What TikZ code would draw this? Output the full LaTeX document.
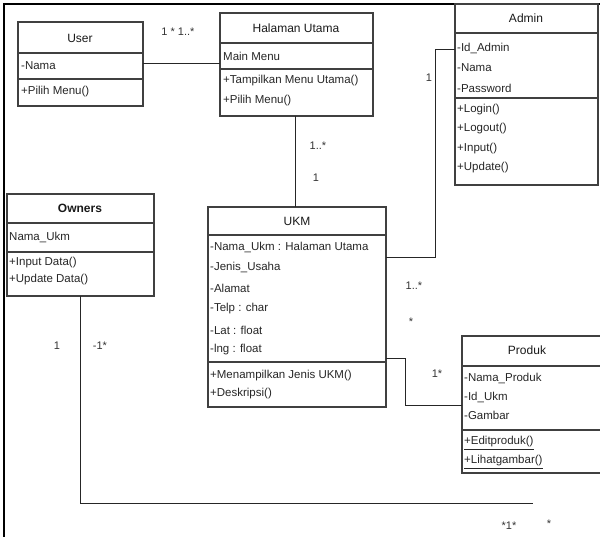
\documentclass[tikz,border=0pt]{standalone}
\usepackage{fontspec}
\setmainfont{Liberation Sans}
\begin{document}
\begin{tikzpicture}[x=1pt,y=-1pt,
  box/.style={draw=black!75, line width=1.3pt, inner sep=0pt, outer sep=0pt, anchor=north west},
  sep/.style={draw=black!75, line width=1.3pt},
  conn/.style={draw=black!85, line width=1pt},
  txt/.style={anchor=west, inner sep=0pt, font=\fontsize{11.5}{13}\selectfont, text=black!85},
  ttl/.style={inner sep=0pt, font=\fontsize{12}{14}\selectfont, text=black!90},
  lbl/.style={inner sep=0pt, font=\fontsize{11}{13}\selectfont, text=black!80}]
\useasboundingbox (0,0) rectangle (600,537);
% frame
\draw[line width=2pt] (4,537) -- (4,4) -- (600,4);

% User
\node[box, minimum width=125pt, minimum height=84pt] (user) at (18,22) {};
\draw[sep] (user.west |- 0,53) -- (user.east |- 0,53);
\draw[sep] (user.west |- 0,79) -- (user.east |- 0,79);
\node[ttl] (userT) at (80,38) {User};
\node[txt] (userA) at (21,66) {-Nama};
\node[txt] (userM) at (21,92) {+Pilih Menu()};

% Halaman Utama
\node[box, minimum width=153pt, minimum height=103pt] (hu) at (220,13) {};
\draw[sep] (hu.west |- 0,43) -- (hu.east |- 0,43);
\draw[sep] (hu.west |- 0,69) -- (hu.east |- 0,69);
\node[ttl] (huT) at (296,28) {Halaman Utama};
\node[txt] (huA) at (223,56) {Main Menu};
\node[txt] (huM1) at (223,81) {+Tampilkan Menu Utama()};
\node[txt] (huM2) at (223,101) {+Pilih Menu()};

% Admin
\node[box, minimum width=143pt, minimum height=181pt] (admin) at (455,4) {};
\draw[sep] (admin.west |- 0,33) -- (admin.east |- 0,33);
\draw[sep] (admin.west |- 0,98) -- (admin.east |- 0,98);
\node[ttl] (adminT) at (526,18) {Admin};
\node[txt] (adminA1) at (457,48) {-Id\_Admin};
\node[txt] (adminA2) at (457,68) {-Nama};
\node[txt] (adminA3) at (457,88) {-Password};
\node[txt] (adminM1) at (457,110) {+Login()};
\node[txt] (adminM2) at (457,129) {+Logout()};
\node[txt] (adminM3) at (457,149) {+Input()};
\node[txt] (adminM4) at (457,168) {+Update()};

% Owners
\node[box, minimum width=147pt, minimum height=102pt] (owners) at (7,194) {};
\draw[sep] (owners.west |- 0,223) -- (owners.east |- 0,223);
\draw[sep] (owners.west |- 0,252) -- (owners.east |- 0,252);
\node[ttl, font=\fontsize{12}{14}\selectfont\bfseries] (ownersT) at (80,208) {Owners};
\node[txt] (ownersA) at (9,237) {Nama\_Ukm};
\node[txt] (ownersM1) at (9,263) {+Input Data()};
\node[txt] (ownersM2) at (9,280) {+Update Data()};

% UKM
\node[box, minimum width=178pt, minimum height=200pt] (ukm) at (208,207) {};
\draw[sep] (ukm.west |- 0,235) -- (ukm.east |- 0,235);
\draw[sep] (ukm.west |- 0,362) -- (ukm.east |- 0,362);
\node[ttl] (ukmT) at (297,221) {UKM};
\node[txt] (ukmA1) at (210,247) {-Nama\_Ukm : Halaman Utama};
\node[txt] (ukmA2) at (210,267) {-Jenis\_Usaha};
\node[txt] (ukmA3) at (210,288) {-Alamat};
\node[txt] (ukmA4) at (210,309) {-Telp : char};
\node[txt] (ukmA5) at (210,330) {-Lat : float};
\node[txt] (ukmA6) at (210,350) {-lng : float};
\node[txt] (ukmM1) at (210,376) {+Menampilkan Jenis UKM()};
\node[txt] (ukmM2) at (210,394) {+Deskripsi()};

% Produk
\node[box, minimum width=150pt, minimum height=137pt] (produk) at (462,336) {};
\draw[sep] (produk.west |- 0,366) -- (produk.east |- 0,366);
\draw[sep] (produk.west |- 0,430) -- (produk.east |- 0,430);
\node[ttl] (produkT) at (527,350) {Produk};
\node[txt] (produkA1) at (464,378) {-Nama\_Produk};
\node[txt] (produkA2) at (464,397) {-Id\_Ukm};
\node[txt] (produkA3) at (464,415) {-Gambar};
\node[txt] (produkM1) at (464,443) {\underline{+Editproduk()}};
\node[txt] (produkM2) at (464,462) {\underline{+Lihatgambar()}};

% connectors
\draw[conn] (user.east |- 0,64) -- (hu.west |- 0,64);
\draw[conn] (hu.south -| 295,0) -- (ukm.north -| 295,0);
\draw[conn] (admin.west |- 0,50) -- (435,50) -- (435,258) -- (ukm.east |- 0,258);
\draw[conn] (ukm.east |- 0,359) -- (405,359) -- (405,405) -- (produk.west |- 0,405);
\coordinate (oend) at (533,503);
\draw[conn] (owners.south -| 80,0) -- (80,503) -- (oend);

% multiplicities
\node[lbl] (m1) at (178,32) {1 * 1..*};
\node[lbl] (m2) at (318,146) {1..*};
\node[lbl] (m3) at (316,178) {1};
\node[lbl] (m4) at (429,78) {1};
\node[lbl] (m5) at (414,286) {1..*};
\node[lbl] (m6) at (411,322) {*};
\node[lbl] (m7) at (437,374) {1*};
\node[lbl] (m8) at (57,346) {1};
\node[lbl] (m9) at (100,346) {-1*};
\node[lbl] (m10) at (509,526) {*1*};
\node[lbl] (m11) at (549,524) {*};
\end{tikzpicture}
\end{document}
